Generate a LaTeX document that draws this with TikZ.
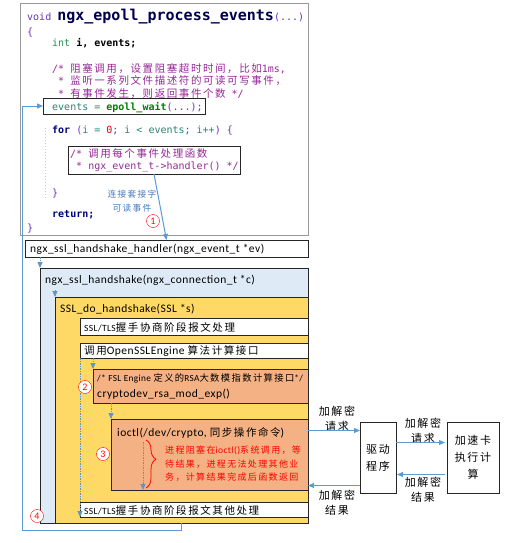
\documentclass[tikz,border=0pt]{standalone}
\usepackage{fontspec}
\setmainfont{Carlito}[LetterSpace=4]
\setmonofont{DejaVu Sans Mono}
\newfontfamily\cjk{Noto Sans CJK SC}[LetterSpace=15]
\usetikzlibrary{positioning,arrows.meta,decorations.pathreplacing}
\definecolor{arrblue}{RGB}{91,155,213}
\definecolor{hsblue}{RGB}{222,235,247}
\definecolor{ssly}{RGB}{255,217,102}
\definecolor{engor}{RGB}{244,177,131}
\definecolor{cmtc}{RGB}{150,40,150}
\definecolor{kwc}{RGB}{110,50,190}
\definecolor{typc}{RGB}{40,140,80}
\definecolor{varc}{RGB}{40,130,120}
\definecolor{ctlc}{RGB}{0,0,128}
\definecolor{fnc}{RGB}{0,128,0}
\definecolor{numc}{RGB}{220,0,0}
\definecolor{labc}{RGB}{70,120,190}
\newcommand{\zh}[2][10.5]{{\cjk\fontsize{#1}{13}\selectfont #2}}
\begin{document}
\begin{tikzpicture}[x=1pt,y=-1pt,
  box/.style={draw=black!85,line width=0.8pt,anchor=north west,inner sep=0pt,outer sep=0pt},
  code line/.style={anchor=base west,inner sep=0pt,font=\ttfamily\fontsize{10}{12}\selectfont},
  txt/.style={anchor=west,inner sep=0pt,font=\fontsize{11.5}{14}\selectfont},
  zh label/.style={inner sep=0pt,align=center,font=\cjk\fontsize{11}{15}\selectfont},
  num node/.style={circle,draw=red,fill=white,text=red,inner sep=0pt,minimum size=13pt,font=\fontsize{10}{10}\selectfont},
  flow/.style={draw=arrblue,line width=1pt,-{Triangle[length=6pt,width=5pt]}},
  dflow/.style={flow,draw=arrblue!80!gray,dash pattern=on 1.5pt off 1pt}]
  \useasboundingbox (0,0) rectangle (515,543);

  % code of the event loop
  \node[box,draw=gray!80,fill=white,minimum width=288pt,minimum height=232pt] (code) at (20,3) {};
  \node[box,minimum width=162pt,minimum height=16pt] (evt) at (43,98) {};
  \node[box,minimum width=172pt,minimum height=28pt] (cmt) at (68,146) {};
  \draw[gray!40,dotted,line width=1pt] (45,128) -- (45,198);

  \node[code line] at (27,21) {\textcolor{kwc}{void} {\bfseries\fontsize{15}{18}\selectfont\color{ctlc!60!black}ngx\_epoll\_process\_events}\textcolor{kwc}{(...)}};
  \node[code line,text=kwc] at (27,36) {\{};
  \node[code line] at (52,47) {\textcolor{typc}{int} \textbf{i, events;}};
  \node[code line,text=cmtc] at (52,72) {/* \zh{阻塞调用，设置阻塞超时时间，比如}1ms,};
  \node[code line,text=cmtc] at (52,84.5) {\ * \zh{监听一系列文件描述符的可读可写事件，}};
  \node[code line,text=cmtc] at (52,97) {\ * \zh{有事件发生，则返回事件个数} */};
  \node[code line] at (52,110) {\textcolor{varc}{events =} \textcolor{fnc}{\textbf{epoll\_wait}}\textcolor{kwc}{(...);}};
  \node[code line] at (52,133) {\textcolor{ctlc}{\textbf{for}} \textcolor{kwc}{(}\textcolor{varc}{i =} \textcolor{numc}{0}\textcolor{kwc}{;} \textcolor{varc}{i < events}\textcolor{kwc}{;} \textcolor{varc}{i++}\textcolor{kwc}{) \{}};
  \node[code line,text=cmtc] at (70,157.5) {/* \zh{调用每个事件处理函数}};
  \node[code line,text=cmtc] at (70,169) {\ * ngx\_event\_t->handler() */};
  \node[code line,text=kwc] at (52,196) {\}};
  \node[code line] at (52,217) {\textcolor{ctlc}{\textbf{return;}}};
  \node[code line,text=kwc] at (27,231) {\}};
  \node[zh label,text=labc,font=\cjk\fontsize{8.7}{14}\selectfont] at (132,201) {连接套接字\\可读事件};

  % handshake call chain
  \node[box,fill=white,minimum width=283pt,minimum height=17pt] (hdl) at (25,240) {};
  \node[box,fill=hsblue,minimum width=268pt,minimum height=255pt] (hs) at (40,268) {};
  \node[box,fill=ssly,minimum width=253pt,minimum height=226pt] (dohs) at (55,297) {};
  \node[box,fill=white,minimum width=228pt,minimum height=17pt] (tls1) at (80,318) {};
  \node[box,fill=white,minimum width=228pt,minimum height=15pt] (eng) at (80,343) {};
  \node[box,fill=engor,minimum width=215pt,minimum height=34pt] (fsl) at (93,369) {};
  \node[box,fill=engor,minimum width=197pt,minimum height=71pt] (ioc) at (111,419) {};
  \node[box,fill=white,minimum width=228pt,minimum height=15pt] (tls2) at (80,502) {};

  \node[txt] at (30,249) {ngx\_ssl\_handshake\_handler(ngx\_event\_t *ev)};
  \node[txt] at (45,280) {ngx\_ssl\_handshake(ngx\_connection\_t *c)};
  \node[txt] at (60,309) {SSL\_do\_handshake(SSL *s)};
  \node[txt] at (84,327) {{\fontsize{9.5}{12}\selectfont SSL/TLS}\zh{握手协商阶段报文处理}};
  \node[txt] at (84,351) {\zh{调用}OpenSSLEngine \zh{算法计算接口}};
  \node[txt,font=\fontsize{9.3}{11}\selectfont] at (97,378) {/* FSL Engine \zh[9.3]{定义的}RSA\zh[9.3]{大数模指数计算接口}*/};
  \node[txt] at (97,394) {cryptodev\_rsa\_mod\_exp()};
  \node[txt] at (117,433) {ioctl(/dev/crypto, \zh{同步操作命令})};
  \node[txt,text=red,align=left,anchor=north west,font=\cjk\fontsize{9}{13.3}\selectfont] at (165,446) {进程阻塞在{\rmfamily\fontsize{9.5}{13.3}\selectfont ioctl()}系统调用，等\\待结果，进程无法处理其他业\\务，计算结果完成后函数返回};
  \node[txt] at (84,510) {{\fontsize{9.5}{12}\selectfont SSL/TLS}\zh{握手协商阶段报文其他处理}};

  % driver and card
  \node[box,fill=white,minimum width=36pt,minimum height=71pt,align=center,font=\cjk\fontsize{11}{17}\selectfont] (drv) at (360,422) {驱动\\程序};
  \node[box,fill=white,minimum width=52pt,minimum height=71pt,align=center,font=\cjk\fontsize{11}{17}\selectfont] (acc) at (447,422) {加速卡\\执行计\\算};
  \node[zh label] at (337,419) {加解密\\请求};
  \node[zh label] at (423,431) {加解密\\请求};
  \node[zh label] at (423,490) {加解密\\结果};
  \node[zh label] at (337,503) {加解密\\结果};

  \draw[flow] (cmt.south) -- (hdl.north);
  \draw[dflow] (hs.north west |- hdl.south) -- (hs.north west);
  \draw[dflow] ([yshift=7pt]dohs.north west) -- (dohs.north west);
  \draw[dflow] (fsl.north west |- eng.south) -- (fsl.north west);
  \draw[dflow] (ioc.north west |- fsl.south) -- (ioc.north west);
  \draw[dflow] (eng.south west) -- (tls2.south west);
  \draw[dflow] ([xshift=32pt,yshift=-23pt]ioc.north west) -- ([xshift=32pt]ioc.south west);
  \draw[red,line width=0.8pt,decorate,decoration={brace,amplitude=10pt,aspect=0.4}] (146,440) -- (146,488);
  \draw[flow] (dohs.south) |- (22,530) |- (evt.west);
  \draw[flow] ([yshift=24pt]ioc.east) -- ([yshift=24pt]ioc.east -| drv.west);
  \draw[flow,shorten >=2pt] ([yshift=15pt]drv.east) -- ([yshift=15pt]drv.east -| acc.west);
  \draw[flow,shorten <=2pt,shorten >=1pt] ([yshift=-17pt]acc.west) -- ([yshift=-17pt]acc.west -| drv.east);
  \draw[flow] ([yshift=-28pt]drv.west) -- ([yshift=-28pt]drv.west -| ioc.east);

  \node[num node] (n1) at (153,221) {1};
  \node[num node] (n2) at (85,387) {2};
  \node[num node] (n3) at (103,454) {3};
  \node[num node] (n4) at (37,516) {4};
\end{tikzpicture}
\end{document}
